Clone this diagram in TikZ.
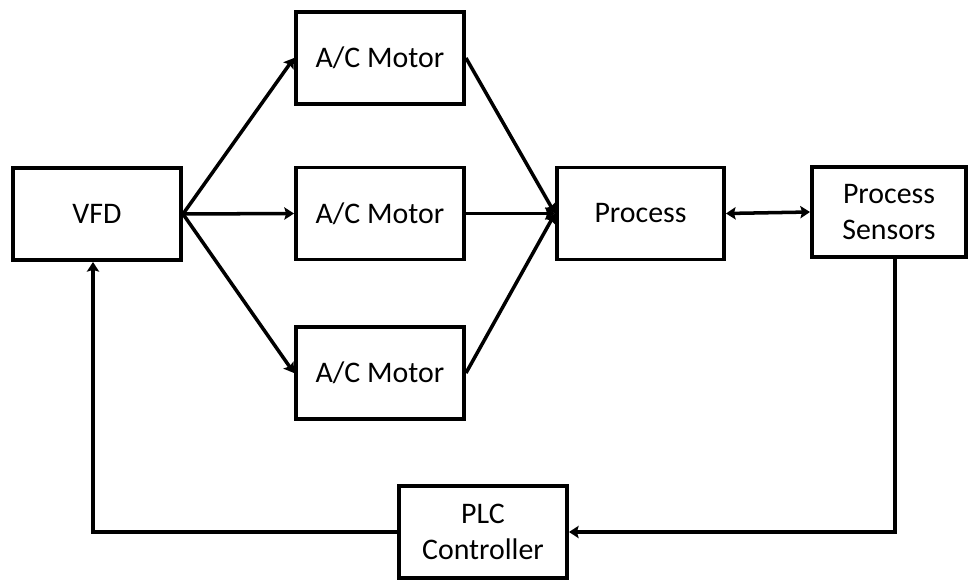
\documentclass[tikz,border=0pt]{standalone}
\usepackage{fontspec}
\setmainfont{Carlito}
\usetikzlibrary{positioning,arrows.meta}
\tikzset{%
block/.style={draw,rectangle,line width=2pt,minimum width=3.37cm,minimum height=1.85cm,inner sep=1pt,align=center,font=\fontsize{17}{20.5}\selectfont},
flow/.style={line width=2pt,-{Stealth[length=5.5pt,width=7pt,inset=1pt]}},
twoway/.style={line width=2pt,{Stealth[length=5.5pt,width=7pt,inset=1pt]}-{Stealth[length=5.5pt,width=7pt,inset=1pt]}}
}

\begin{document}
\begin{tikzpicture}[x=0.02cm,y=-0.02cm]
  \useasboundingbox (0,0) rectangle (971,581);

  % blocks
  \node[block] (vfd) at (97,214) {VFD};
  \node[block] (motora) at (380,58) {A/C Motor};
  \node[block] (motorb) at (380,213.5) {A/C Motor};
  \node[block] (motorc) at (380,373) {A/C Motor};
  \node[block,minimum width=3.35cm] (process) at (640.5,213.5) {Process};
  \node[block,minimum width=3.09cm,minimum height=1.81cm] (sensors) at (889,212) {Process\\Sensors};
  \node[block] (plc) at (483,532) {PLC\\Controller};

  % drive to motors
  \draw[flow] (vfd.east) -- (motora.west);
  \draw[flow] (vfd.east) -- (motorb.west);
  \draw[flow] (vfd.east) -- (motorc.west);

  % motors to process
  \draw[flow] (motora.east) -- (process.west);
  \draw[flow] (motorb.east) -- (process.west);
  \draw[flow] (motorc.east) -- (process.west);

  \draw[twoway] (process.east) -- (sensors.west);

  % feedback loop
  \draw[flow] ([xshift=0.12cm]sensors.south) |- (plc.east);
  \draw[flow] (plc.west) -| ([xshift=-0.08cm]vfd.south);
\end{tikzpicture}
\end{document}
